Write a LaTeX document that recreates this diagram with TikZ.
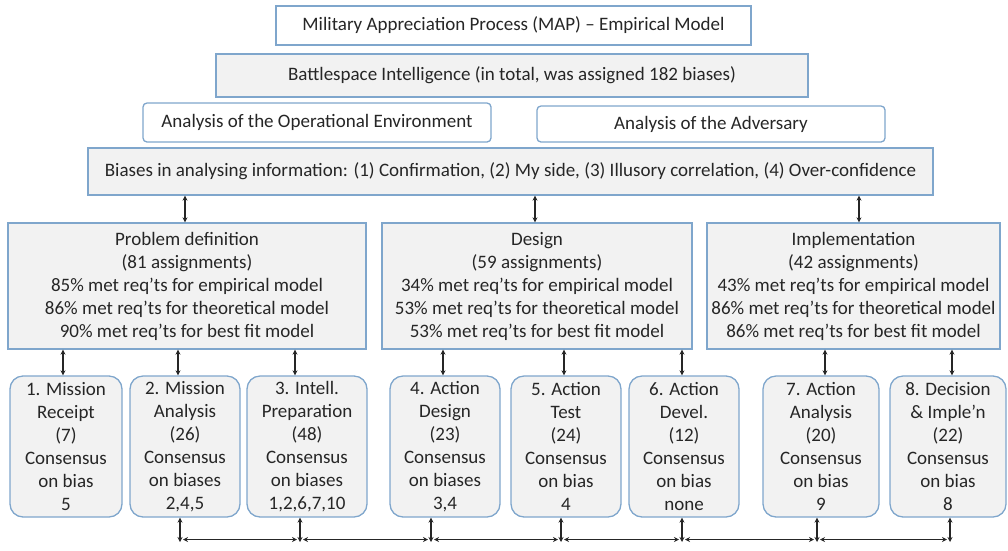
\documentclass[tikz,border=0pt]{standalone}
\usepackage{fontspec}
\setmainfont{Carlito}
\usetikzlibrary{arrows.meta}
\definecolor{bordc}{HTML}{7FA6CC}
\definecolor{fillc}{HTML}{F2F2F2}
\definecolor{txtc}{HTML}{262626}
\tikzset{
  base/.style={draw=bordc, line width=1.3pt, text=txtc, align=center, inner sep=0pt,
    font=\fontsize{19}{23}\selectfont},
  plainbox/.style={base, fill=white},
  graybox/.style={base, fill=fillc},
  stepbox/.style={base, fill=fillc, rounded corners=13pt},
  link/.style={draw=black!85, line width=1.4pt, {Stealth[length=5pt,width=5pt]}-{Stealth[length=5pt,width=5pt]}}
}
\begin{document}
\begin{tikzpicture}[x=1pt,y=-1pt]
\useasboundingbox (0,0) rectangle (1008,550);
\node[plainbox, minimum width=475, minimum height=39] (title) at (513.5,25.5) {Military Appreciation Process (MAP) -- Empirical Model};
\node[graybox, minimum width=592, minimum height=43] (battle) at (512,75.5) {Battlespace Intelligence (in total, was assigned 182 biases)};
\node[plainbox, rounded corners=4pt, minimum width=348, minimum height=39] (aoe) at (317,122.5) {Analysis of the Operational Environment};
\node[plainbox, rounded corners=4pt, minimum width=348, minimum height=36] (aoa) at (711,124) {Analysis of the Adversary};
\node[graybox, minimum width=845, minimum height=47] (biases) at (510.5,171.5) {Biases in analysing information: (1) Confirmation, (2) My side, (3) Illusory correlation, (4) Over-confidence};

\node[graybox, minimum width=358, minimum height=126] (pd) at (187,286) {Problem definition\\(81 assignments)\\85\% met req’ts for empirical model\\86\% met req’ts for theoretical model\\90\% met req’ts for best fit model};
\node[graybox, minimum width=310, minimum height=126] (des) at (537,286) {Design\\(59 assignments)\\34\% met req’ts for empirical model\\53\% met req’ts for theoretical model\\53\% met req’ts for best fit model};
\node[graybox, minimum width=293, minimum height=126] (imp) at (853.5,286) {Implementation\\(42 assignments)\\43\% met req’ts for empirical model\\86\% met req’ts for theoretical model\\86\% met req’ts for best fit model};

\node[stepbox, minimum width=112, minimum height=141] (b1) at (66,446.5) {1. Mission\\Receipt\\(7)\\Consensus\\on bias\\5};
\node[stepbox, minimum width=110, minimum height=141] (b2) at (185,446.5) {2. Mission\\Analysis\\(26)\\Consensus\\on biases\\2,4,5};
\node[stepbox, minimum width=120, minimum height=141] (b3) at (307,446.5) {3. Intell.\\Preparation\\(48)\\Consensus\\on biases\\1,2,6,7,10};
\node[stepbox, minimum width=110, minimum height=141] (b4) at (445,446.5) {4. Action\\Design\\(23)\\Consensus\\on biases\\3,4};
\node[stepbox, minimum width=110, minimum height=141] (b5) at (566,446.5) {5. Action\\Test\\(24)\\Consensus\\on bias\\4};
\node[stepbox, minimum width=110, minimum height=141] (b6) at (684,446.5) {6. Action\\Devel.\\(12)\\Consensus\\on bias\\none};
\node[stepbox, minimum width=116, minimum height=141] (b7) at (821,446.5) {7. Action\\Analysis\\(20)\\Consensus\\on bias\\9};
\node[stepbox, minimum width=116, minimum height=141] (b8) at (948,446.5) {8. Decision\\\& Imple’n\\(22)\\Consensus\\on bias\\8};

% x positions of top links
\coordinate (tp) at (185,0);
\coordinate (td) at (535,0);
\coordinate (ti) at (859,0);
\draw[link] (biases.south -| tp) -- (pd.north -| tp);
\draw[link] (biases.south -| td) -- (des.north -| td);
\draw[link] (biases.south -| ti) -- (imp.north -| ti);

% links from phases to steps
\coordinate (u1) at (63,0);
\coordinate (u2) at (178,0);
\coordinate (u3) at (295,0);
\coordinate (u4) at (443,0);
\coordinate (u5) at (564,0);
\coordinate (u6) at (682,0);
\coordinate (u7) at (825,0);
\coordinate (u8) at (952,0);
\draw[link] (pd.south -| u1) -- (b1.north -| u1);
\draw[link] (pd.south -| u2) -- (b2.north -| u2);
\draw[link] (pd.south -| u3) -- (b3.north -| u3);
\draw[link] (des.south -| u4) -- (b4.north -| u4);
\draw[link] (des.south -| u5) -- (b5.north -| u5);
\draw[link] (des.south -| u6) -- (b6.north -| u6);
\draw[link] (imp.south -| u7) -- (b7.north -| u7);
\draw[link] (imp.south -| u8) -- (b8.north -| u8);

% bottom chain
\coordinate (h2) at (180,542);
\coordinate (h3) at (300,542);
\coordinate (h4) at (431,542);
\coordinate (h5) at (561,542);
\coordinate (h6) at (682,542);
\coordinate (h7) at (817,542);
\coordinate (h8) at (950,542);
\foreach \b/\h in {b2/h2,b3/h3,b4/h4,b5/h5,b6/h6,b7/h7,b8/h8}{
  \draw[link] (\b.south -| \h) -- (\h);
}
\foreach \a/\c in {h2/h3,h3/h4,h4/h5,h5/h6,h6/h7,h7/h8}{
  \draw[link] ([xshift=3pt,yshift=2.5pt]\a) -- ([xshift=-3pt,yshift=2.5pt]\c);
}
\end{tikzpicture}
\end{document}
